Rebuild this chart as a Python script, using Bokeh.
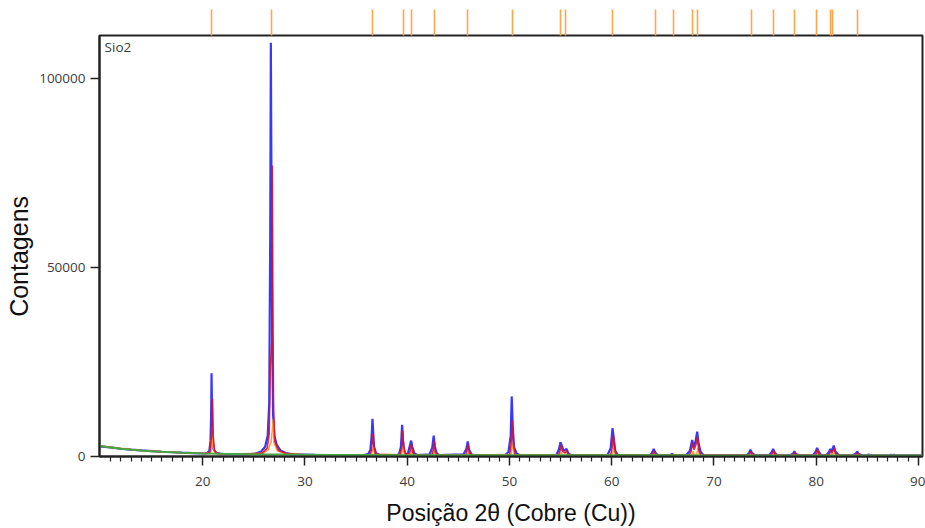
from bokeh.plotting import figure
from bokeh.models import FixedTicker, LinearAxis, NumeralTickFormatter, Range1d, Label
from bokeh.embed import file_html
from bokeh.resources import INLINE

# Observed diffractogram (2θ in degrees, counts)
obs_2theta = [
    9.9, 11, 12, 13, 14, 15, 16, 17, 18, 19, 20.2,
    20.45, 20.65, 20.76, 20.82, 20.86, 20.9, 20.95, 21.05, 21.3, 21.8,
    23.0, 24.5,
    25.2, 25.7, 26.1, 26.35, 26.5, 26.6, 26.66, 26.74, 26.8, 26.88, 27.0, 27.25, 27.6, 28.1, 28.8,
    31.0, 34.0, 35.8,
    36.2, 36.4, 36.52, 36.6, 36.68, 36.76, 36.95, 37.3,
    39.0, 39.2, 39.38, 39.5, 39.58, 39.7, 39.85, 40.05, 40.22, 40.38, 40.5, 40.7, 41.0,
    42.2, 42.45, 42.59, 42.7, 42.9, 43.2,
    45.5, 45.78, 45.92, 46.05, 46.3, 46.6,
    49.6, 49.9, 50.12, 50.22, 50.32, 50.45, 50.7, 51.0,
    54.6, 54.85, 54.99, 55.1, 55.3, 55.58, 55.75, 56.0,
    59.6, 59.9, 60.08, 60.2, 60.35, 60.6,
    63.8, 64.0, 64.11, 64.25, 64.5,
    65.7, 65.91, 66.1,
    67.3, 67.65, 67.87, 68.0, 68.2, 68.36, 68.5, 68.7, 69.0,
    73.2, 73.45, 73.57, 73.7, 74.0,
    75.4, 75.65, 75.79, 75.95, 76.2,
    77.5, 77.75, 77.87, 78.0, 78.3,
    79.7, 79.95, 80.09, 80.25, 80.5,
    81.0, 81.25, 81.39, 81.52, 81.72, 81.88, 82.2,
    83.6, 83.9, 84.01, 84.15, 84.5,
    85.0, 85.1, 85.4, 87.2, 87.3, 87.45, 87.6, 87.8, 90.4,
]
obs_counts = [
    2700, 2400, 2050, 1800, 1600, 1420, 1250, 1120, 1000, 900, 800,
    900, 1600, 4200, 11000, 22000, 13000, 5200, 2000, 950, 700,
    640, 600,
    800, 1300, 2600, 5500, 14000, 59000, 109500, 59000, 30000, 11000, 5500, 3000, 1600, 900, 550,
    420, 380, 370,
    700, 1800, 5500, 10000, 6000, 2500, 900, 400,
    370, 700, 2500, 8400, 4500, 1500, 700, 600, 2500, 4200, 2500, 800, 380,
    600, 2400, 5500, 2600, 700, 350,
    600, 2000, 4000, 1800, 500, 330,
    450, 1200, 5500, 15900, 8000, 2500, 800, 350,
    450, 2000, 3800, 3000, 1500, 2000, 900, 350,
    450, 2200, 7500, 5000, 1500, 400,
    400, 1300, 2000, 1100, 350,
    350, 700, 350,
    400, 1500, 4400, 2500, 4000, 6600, 3500, 1200, 350,
    350, 1000, 1800, 1000, 330,
    350, 1200, 2000, 1000, 330,
    330, 800, 1400, 700, 320,
    350, 1300, 2300, 1200, 330,
    350, 1200, 2000, 1400, 2900, 1300, 330,
    320, 900, 1300, 700, 310,
    300, 500, 300, 300, 450, 300, 450, 300, 280,
]

# Calculated profile
calc_2theta = [
    9.9, 12, 14, 16, 18, 20.3,
    20.7, 20.85, 20.95, 21.02, 21.15, 21.5,
    24.0, 25.8, 26.3, 26.5, 26.6, 26.75, 26.8, 26.87, 26.93, 27.05, 27.4, 28.2, 30.0,
    36.3, 36.5, 36.62, 36.72, 36.9,
    39.3, 39.45, 39.55, 39.65, 39.85, 40.25, 40.4, 40.52, 40.7,
    42.4, 42.55, 42.63, 42.75, 42.95,
    45.7, 45.85, 45.95, 46.08, 46.3,
    50.0, 50.15, 50.27, 50.37, 50.55, 50.8,
    54.8, 54.95, 55.04, 55.15, 55.45, 55.6, 55.72, 55.9,
    59.9, 60.05, 60.15, 60.28, 60.45,
    63.95, 64.07, 64.15, 64.3, 64.45,
    65.8, 65.93, 66.05,
    67.6, 67.78, 67.9, 68.05, 68.25, 68.38, 68.5, 68.7,
    73.4, 73.55, 73.62, 73.75, 73.95,
    75.6, 75.75, 75.83, 75.95, 76.15,
    77.75, 77.85, 77.92, 78.05, 78.2,
    79.95, 80.05, 80.13, 80.25, 80.45,
    81.25, 81.35, 81.43, 81.55, 81.68, 81.77, 81.9, 82.1,
    83.9, 83.98, 84.06, 84.18, 84.35,
    90.4,
]
calc_counts = [
    2750, 2050, 1600, 1250, 1000, 800,
    1200, 5000, 15300, 5500, 1400, 750,
    620, 900, 2200, 6000, 22700, 30000, 77000, 33000, 12000, 4000, 1600, 750, 450,
    380, 1600, 6100, 3000, 600,
    370, 2200, 6900, 2500, 500, 900, 3300, 1300, 380,
    400, 1800, 4200, 1200, 350,
    350, 1500, 3200, 1000, 330,
    400, 2800, 9500, 3500, 600, 320,
    350, 1500, 3000, 1500, 900, 1600, 600, 310,
    350, 2500, 5600, 2000, 400,
    320, 900, 1500, 500, 300,
    300, 550, 300,
    350, 1500, 3600, 1800, 3200, 5200, 2000, 320,
    300, 900, 1400, 500, 290,
    300, 1000, 1600, 500, 290,
    290, 700, 1100, 400, 285,
    290, 1200, 1900, 600, 285,
    290, 1100, 1600, 900, 1700, 2300, 700, 285,
    285, 700, 1000, 400, 280,
    280,
]

# Individual phase contribution
comp_2theta = [
    9.9, 14, 18, 20.6,
    20.8, 20.93, 21.0, 21.2, 22.0,
    25.9, 26.4, 26.7, 26.9, 26.98, 27.3, 28.0, 30.0,
    36.5, 36.68, 36.8,
    39.45, 39.6, 39.72,
    40.35, 40.45, 40.55,
    42.55, 42.68, 42.8,
    45.85, 46.0, 46.12,
    50.15, 50.33, 50.45,
    54.95, 55.08, 55.2, 55.55, 55.65, 55.75,
    60.05, 60.22, 60.35,
    64.1, 64.2, 64.3,
    65.85, 65.98, 66.1,
    67.85, 67.97, 68.08, 68.3, 68.45, 68.58,
    73.55, 73.7, 73.82,
    75.75, 75.9, 76.0,
    77.85, 77.98, 78.1,
    80.05, 80.2, 80.32,
    81.35, 81.5, 81.6, 81.83, 81.95,
    83.98, 84.12, 84.25,
    90.4,
]
comp_counts = [
    2750, 1600, 1000, 780,
    1200, 8000, 2500, 900, 680,
    800, 1800, 4000, 10000, 3500, 1500, 800, 450,
    500, 2500, 500,
    500, 2800, 500,
    450, 1500, 400,
    400, 1700, 400,
    380, 1300, 350,
    500, 3800, 450,
    400, 1200, 350, 350, 700, 320,
    400, 2300, 350,
    320, 700, 300,
    300, 400, 300,
    350, 1400, 400, 400, 2200, 320,
    300, 650, 290,
    300, 700, 290,
    290, 500, 285,
    290, 800, 285,
    290, 700, 400, 1000, 285,
    285, 450, 280,
    280,
]

# Background
bg_2theta = [9.9, 11, 12, 13, 14, 15, 16, 17, 18, 19, 20, 22, 24, 26, 28, 30, 33, 36, 40, 45, 50, 55, 60, 65, 70, 75, 80, 85, 90.4]
bg_counts = [2750, 2400, 2050, 1800, 1600, 1420, 1250, 1120, 1000, 900, 820, 700, 620, 560, 500, 450, 400, 370, 350, 330, 320, 310, 300, 300, 295, 290, 285, 280, 280]

# Reference pattern line positions (2θ)
ref_positions = [20.86, 26.72, 36.60, 39.60, 40.40, 42.64, 45.89, 50.28, 54.98, 55.48, 60.07,
                 64.24, 66.00, 67.87, 68.35, 73.66, 75.81, 77.89, 80.08, 81.38, 81.55, 84.00]

x_major_ticks = [20, 30, 40, 50, 60, 70, 80, 90]
x_minor_ticks = [v for v in range(11, 91) if v % 10]
y_ticks = [0, 50000, 100000]

TICK_FONT = "Open Sans"
TICK_COLOR = "#3c3c3c"
FRAME_COLOR = "#222222"
TITLE_FONT = "Liberation Sans"

p = figure(width=925, height=528, output_backend="svg", toolbar_location=None,
           x_range=Range1d(9.9, 90.4), y_range=Range1d(0, 111400),
           min_border_left=99, min_border_right=3, min_border_top=35, min_border_bottom=72)

p.background_fill_color = "white"
p.border_fill_color = "white"
p.outline_line_color = FRAME_COLOR
p.outline_line_width = 2
p.xgrid.grid_line_color = None
p.ygrid.grid_line_color = None

# bottom axis
xa = p.xaxis[0]
xa.ticker = FixedTicker(ticks=x_major_ticks, minor_ticks=x_minor_ticks)
xa.axis_line_color = FRAME_COLOR
xa.axis_line_width = 2
xa.major_tick_in = 0
xa.major_tick_out = 9
xa.minor_tick_in = 0
xa.minor_tick_out = 5
xa.major_tick_line_color = FRAME_COLOR
xa.major_tick_line_width = 1.5
xa.minor_tick_line_color = FRAME_COLOR
xa.minor_tick_line_width = 1.2
xa.major_label_text_font = TICK_FONT
xa.major_label_text_font_size = "13.5px"
xa.major_label_text_color = TICK_COLOR
xa.major_label_standoff = 11
xa.axis_label = "Posição 2θ (Cobre (Cu))"
xa.axis_label_text_font = TITLE_FONT
xa.axis_label_text_font_style = "normal"
xa.axis_label_text_font_size = "23px"
xa.axis_label_text_color = "#111111"
xa.axis_label_standoff = 11

# left axis; the trailing no-break spaces lower the title a little along the axis
ya = p.yaxis[0]
ya.ticker = FixedTicker(ticks=y_ticks, minor_ticks=[])
ya.formatter = NumeralTickFormatter(format="0")
ya.axis_line_color = FRAME_COLOR
ya.axis_line_width = 2
ya.major_tick_in = 0
ya.major_tick_out = 9
ya.major_tick_line_color = FRAME_COLOR
ya.major_tick_line_width = 1.5
ya.minor_tick_line_color = None
ya.major_label_text_font = TICK_FONT
ya.major_label_text_font_size = "13.5px"
ya.major_label_text_color = TICK_COLOR
ya.major_label_standoff = 5
ya.axis_label = "Contagens\u00a0\u00a0\u00a0"
ya.axis_label_text_font = TITLE_FONT
ya.axis_label_text_font_style = "normal"
ya.axis_label_text_font_size = "25px"
ya.axis_label_text_color = "#111111"
ya.axis_label_standoff = 3

# reference line positions drawn as ticks above the frame
ref_axis = LinearAxis(ticker=FixedTicker(ticks=ref_positions, minor_ticks=[]),
                      axis_line_color=None,
                      major_tick_in=0, major_tick_out=26,
                      major_tick_line_color="#ffa54a", major_tick_line_width=1.6,
                      minor_tick_line_color=None,
                      major_label_text_font_size="0px", major_label_text_alpha=0,
                      major_label_standoff=0)
p.add_layout(ref_axis, "above")

# profiles
p.line(obs_2theta, obs_counts, line_color="#1414ff", line_width=2.2, line_alpha=0.85)
p.line(comp_2theta, comp_counts, line_color="#ff9d3c", line_width=1.5)
p.line(calc_2theta, calc_counts, line_color="#e01020", line_width=1.6, line_alpha=0.9)
p.line(bg_2theta, bg_counts, line_color="#45a845", line_width=2)

p.add_layout(Label(x=10.4, y=110700, text="Sio2", text_baseline="top",
                   text_font=TICK_FONT, text_font_size="13.5px", text_color=TICK_COLOR))

open("out.html", "w").write(file_html(p, INLINE))
